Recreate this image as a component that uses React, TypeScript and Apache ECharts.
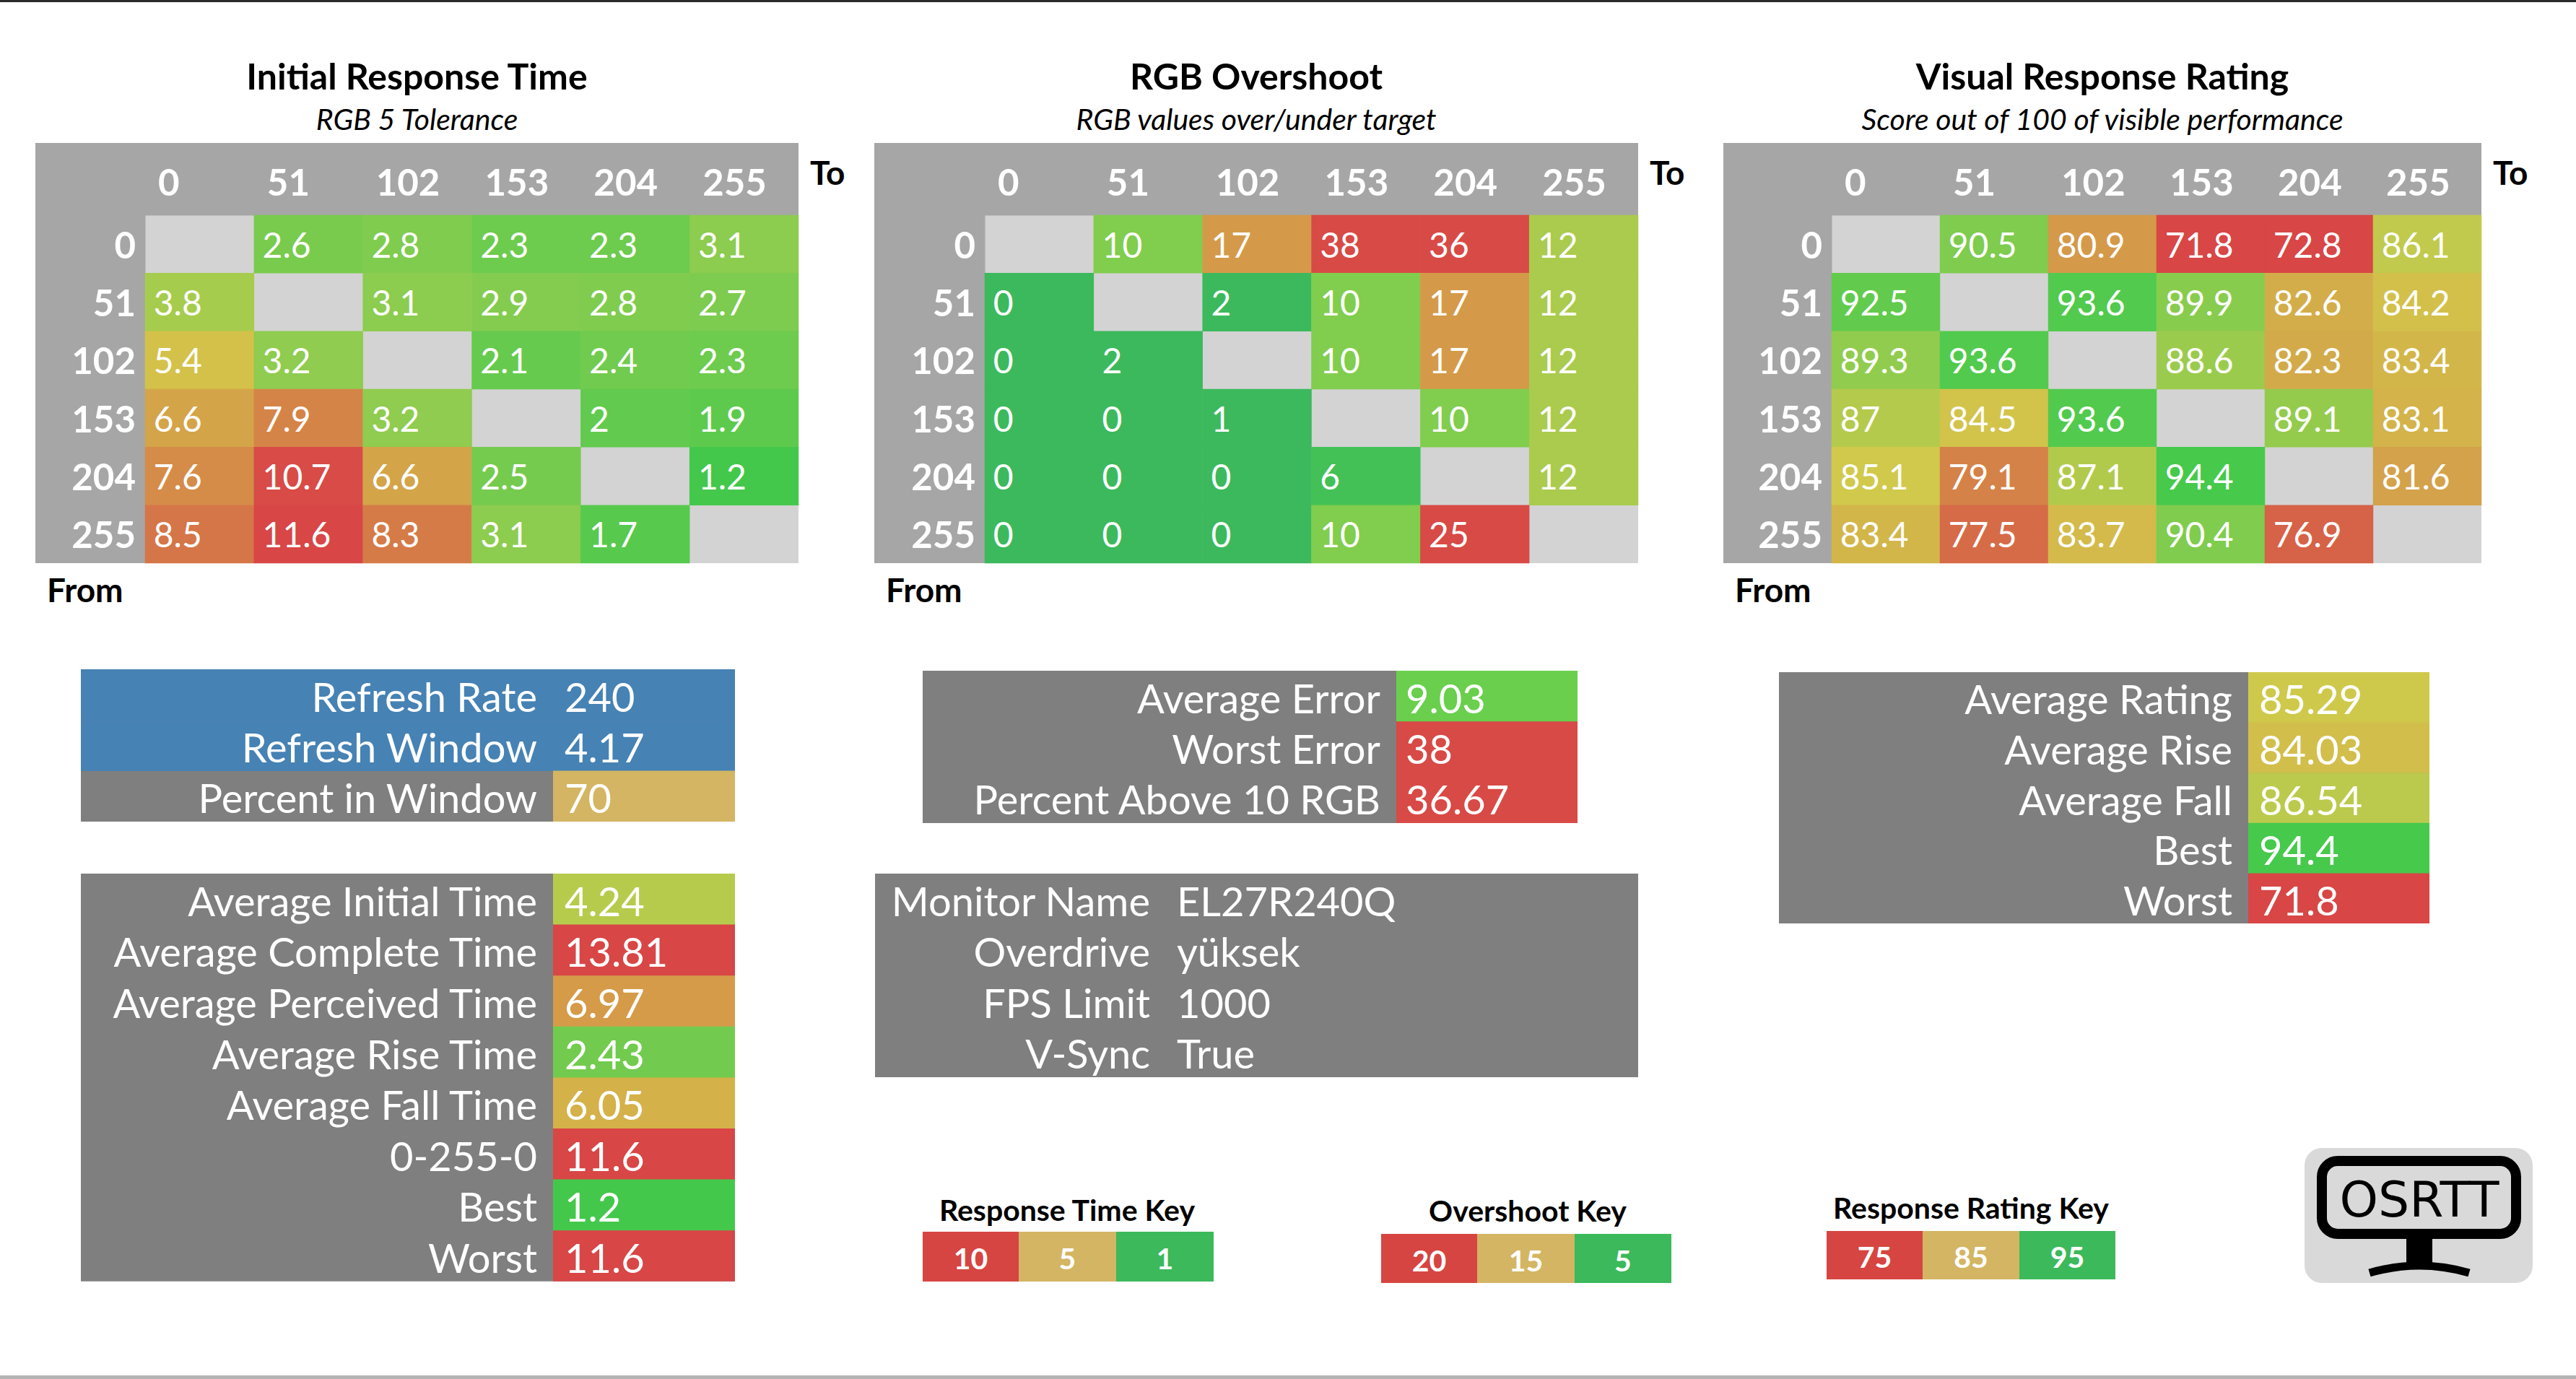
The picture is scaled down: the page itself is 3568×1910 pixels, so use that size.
import React, { useEffect, useRef } from "react";
import * as echarts from "echarts";

// ---------- data ----------
const levels = ["0", "51", "102", "153", "204", "255"];

const initialResponse: (number | null)[][] = [
  [null, 2.6, 2.8, 2.3, 2.3, 3.1],
  [3.8, null, 3.1, 2.9, 2.8, 2.7],
  [5.4, 3.2, null, 2.1, 2.4, 2.3],
  [6.6, 7.9, 3.2, null, 2, 1.9],
  [7.6, 10.7, 6.6, 2.5, null, 1.2],
  [8.5, 11.6, 8.3, 3.1, 1.7, null],
];

const overshoot: (number | null)[][] = [
  [null, 10, 17, 38, 36, 12],
  [0, null, 2, 10, 17, 12],
  [0, 2, null, 10, 17, 12],
  [0, 0, 1, null, 10, 12],
  [0, 0, 0, 6, null, 12],
  [0, 0, 0, 10, 25, null],
];

const rating: (number | null)[][] = [
  [null, 90.5, 80.9, 71.8, 72.8, 86.1],
  [92.5, null, 93.6, 89.9, 82.6, 84.2],
  [89.3, 93.6, null, 88.6, 82.3, 83.4],
  [87, 84.5, 93.6, null, 89.1, 83.1],
  [85.1, 79.1, 87.1, 94.4, null, 81.6],
  [83.4, 77.5, 83.7, 90.4, 76.9, null],
];

const refreshLabels = ["Refresh Rate", "Refresh Window", "Percent in Window"];
const refreshValues = ["240", "4.17", "70"];

const timeLabels = [
  "Average Initial Time",
  "Average Complete Time",
  "Average Perceived Time",
  "Average Rise Time",
  "Average Fall Time",
  "0-255-0",
  "Best",
  "Worst",
];
const timeValues = [4.24, 13.81, 6.97, 2.43, 6.05, 11.6, 1.2, 11.6];

const overshootLabels = ["Average Error", "Worst Error", "Percent Above 10 RGB"];
const overshootValues = [9.03, 38, 36.67];

const monitorLabels = ["Monitor Name", "Overdrive", "FPS Limit", "V-Sync"];
const monitorValues = ["EL27R240Q", "yüksek", "1000", "True"];

const ratingLabels = ["Average Rating", "Average Rise", "Average Fall", "Best", "Worst"];
const ratingValues = [85.29, 84.03, 86.54, 94.4, 71.8];

const responseKey = [10, 5, 1];
const overshootKey = [20, 15, 5];
const ratingKey = [75, 85, 95];

// ---------- styles ----------
const FONT = "Lato, 'Noto Sans', sans-serif";
const responseColors = ["#3cc84c", "#88cc4f", "#d2cb4a", "#d59a49", "#d56a47", "#d84646"];
const overshootColors = ["#3cb95c", "#50d04c", "#99cc4e", "#cdca4b", "#d49a49", "#d84a46"];
const ratingColors = ["#d84646", "#d48f49", "#d2c94b", "#86cc4e", "#3ec94c"];
const keyColors = ["#d64541", "#d4b563", "#3cb95a"];
const GRAY = "#7f7f7f";
const HEAD_GRAY = "#a6a6a6";
const DIAG = "#d3d3d3";
const BLUE = "#4682b4";
const TAN = "#d4b563";
const TABLE_FONT = 56;

function hex(c: string) {
  const n = parseInt(c.slice(1), 16);
  return [(n >> 16) & 255, (n >> 8) & 255, n & 255];
}
function colorAt(colors: string[], min: number, max: number, v: number) {
  let t = (v - min) / (max - min);
  t = Math.max(0, Math.min(1, t));
  const seg = t * (colors.length - 1);
  const i = Math.min(colors.length - 2, Math.floor(seg));
  const f = seg - i;
  const a = hex(colors[i]);
  const b = hex(colors[i + 1]);
  const m = a.map((x, k) => Math.round(x + (b[k] - x) * f));
  return `rgb(${m[0]},${m[1]},${m[2]})`;
}

const panels = [
  { title: "Initial Response Time", sub: "RGB 5 Tolerance", boxLeft: 49, gridLeft: 201, gridWidth: 905, matrix: initialResponse, min: 1, max: 11, colors: responseColors },
  { title: "RGB Overshoot", sub: "RGB values over/under target", boxLeft: 1211, gridLeft: 1364, gridWidth: 905, matrix: overshoot, min: 5, max: 20, colors: overshootColors },
  { title: "Visual Response Rating", sub: "Score out of 100 of visible performance", boxLeft: 2387, gridLeft: 2537, gridWidth: 900, matrix: rating, min: 75, max: 95, colors: ratingColors },
];
const BOX_TOP = 198;
const GRID_TOP = 298;
const GRID_H = 482;

function toCells(m: (number | null)[][]) {
  const out: number[][] = [];
  m.forEach((row, r) =>
    row.forEach((v, c) => {
      if (v !== null) out.push([c, r, v]);
    })
  );
  return out;
}

const txt = (text: string, x: number, y: number, size: number, o: any = {}) => ({
  type: "text",
  x,
  y,
  silent: true,
  style: {
    text,
    fill: o.fill ?? "#fff",
    fontSize: size,
    fontFamily: o.family ?? FONT,
    fontWeight: o.weight ?? "normal",
    fontStyle: o.italic ? "italic" : "normal",
    align: o.align ?? "left",
    verticalAlign: "middle",
  },
});
const rect = (x: number, y: number, w: number, h: number, fill: string, extra: any = {}) => ({
  type: "rect",
  silent: true,
  shape: { x, y, width: w, height: h, r: extra.r ?? 0 },
  style: { fill, stroke: extra.stroke, lineWidth: extra.lineWidth },
});

function table(o: {
  x: number; y: number; w: number; valueX: number | null; rowH: number;
  labels: string[]; values: string[]; labelRight: number; valueLeft: number;
  valueColors?: (string | null)[]; fullRow?: (string | null)[];
}) {
  const els: any[] = [];
  const n = o.labels.length;
  els.push(rect(o.x, o.y, o.w, o.rowH * n, GRAY));
  for (let i = 0; i < n; i++) {
    const y = o.y + i * o.rowH;
    const full = o.fullRow ? o.fullRow[i] : null;
    if (full) els.push(rect(o.x, y, o.w, o.rowH + (i < n - 1 ? 0.5 : 0), full));
    else if (o.valueX !== null && o.valueColors && o.valueColors[i])
      els.push(rect(o.valueX, y, o.x + o.w - o.valueX, o.rowH + (i < n - 1 ? 0.5 : 0), o.valueColors[i] as string));
  }
  for (let i = 0; i < n; i++) {
    const cy = o.y + i * o.rowH + o.rowH / 2 + 2;
    els.push(txt(o.labels[i], o.labelRight, cy, TABLE_FONT, { align: "right" }));
    els.push(txt(o.values[i], o.valueLeft, cy, TABLE_FONT));
  }
  return els;
}

function keyBlock(title: string, cx: number, ty: number, xs: number[], y0: number, y1: number, vals: number[]) {
  const els: any[] = [txt(title, cx, ty, 41, { fill: "#000", weight: "bold", align: "center" })];
  vals.forEach((v, i) => {
    els.push(rect(xs[i], y0, xs[i + 1] - xs[i] + (i < 2 ? 0.5 : 0), y1 - y0, keyColors[i]));
    els.push(txt(String(v), (xs[i] + xs[i + 1]) / 2, (y0 + y1) / 2 + 2, 41, { weight: "bold", align: "center" }));
  });
  return els;
}

function buildGraphic() {
  const els: any[] = [];
  els.push(rect(0, 0, 3568, 3, "#2a2a2a"));
  els.push(rect(0, 1905, 3568, 5, "#b4b4b4"));
  panels.forEach((p) => {
    const right = p.gridLeft + p.gridWidth;
    const cx = (p.boxLeft + right) / 2;
    els.push(rect(p.boxLeft, BOX_TOP, right - p.boxLeft, GRID_TOP - BOX_TOP + 0.5, HEAD_GRAY));
    els.push(rect(p.boxLeft, GRID_TOP, p.gridLeft - p.boxLeft + 0.5, GRID_H, HEAD_GRAY));
    els.push(txt(p.title, cx, 105, 50, { fill: "#000", weight: "bold", align: "center" }));
    els.push(txt(p.sub, cx, 164, 41, { fill: "#000", italic: true, align: "center" }));
    els.push(txt("To", right + 16, 238, 46, { fill: "#000", weight: "bold" }));
    els.push(txt("From", p.boxLeft + 16, 816, 46, { fill: "#000", weight: "bold" }));
  });

  els.push(
    ...table({
      x: 112, y: 927, w: 906, valueX: 766, rowH: 70.3,
      labels: refreshLabels, values: refreshValues, labelRight: 744, valueLeft: 782,
      fullRow: [BLUE, BLUE, null], valueColors: [null, null, TAN],
    })
  );
  els.push(
    ...table({
      x: 112, y: 1210, w: 906, valueX: 766, rowH: 70.6,
      labels: timeLabels, values: timeValues.map(String), labelRight: 744, valueLeft: 782,
      valueColors: timeValues.map((v) => colorAt(responseColors, 1, 11, v)),
    })
  );
  els.push(
    ...table({
      x: 1278, y: 929, w: 907, valueX: 1934, rowH: 70.3,
      labels: overshootLabels, values: overshootValues.map(String), labelRight: 1912, valueLeft: 1947,
      valueColors: overshootValues.map((v) => colorAt(overshootColors, 5, 20, v)),
    })
  );
  els.push(
    ...table({
      x: 1212, y: 1210, w: 1057, valueX: null, rowH: 70.5,
      labels: monitorLabels, values: monitorValues, labelRight: 1593, valueLeft: 1630,
    })
  );
  els.push(
    ...table({
      x: 2464, y: 931, w: 901, valueX: 3114, rowH: 69.6,
      labels: ratingLabels, values: ratingValues.map(String), labelRight: 3092, valueLeft: 3129,
      valueColors: ratingValues.map((v) => colorAt(ratingColors, 75, 95, v)),
    })
  );

  els.push(...keyBlock("Response Time Key", 1478, 1675, [1278, 1411, 1546, 1681], 1706, 1775, responseKey));
  els.push(...keyBlock("Overshoot Key", 2116, 1676, [1913, 2046, 2181, 2315], 1709, 1777, overshootKey));
  els.push(...keyBlock("Response Rating Key", 2730, 1672, [2530, 2663, 2797, 2930], 1705, 1772, ratingKey));

  // logo
  els.push(rect(3192, 1590, 316, 187, "#d9d9d9", { r: 24 }));
  els.push({
    type: "rect",
    silent: true,
    shape: { x: 3216, y: 1608, width: 269, height: 101, r: 22 },
    style: { fill: "none", stroke: "#000", lineWidth: 14 },
  });
  els.push(txt("OSRTT", 3351, 1661, 68, { fill: "#000", family: "'DejaVu Sans', sans-serif", align: "center" }));
  els.push(rect(3333, 1712, 36, 44, "#000"));
  els.push({
    type: "bezierCurve",
    silent: true,
    shape: { x1: 3282, y1: 1763, x2: 3420, y2: 1763, cpx1: 3351, cpy1: 1743 },
    style: { fill: "none", stroke: "#000", lineWidth: 11 },
  });
  return els;
}

export default function App() {
  const ref = useRef<HTMLDivElement>(null);
  useEffect(() => {
    if (!ref.current) return;
    const chart = echarts.init(ref.current, undefined, { renderer: "svg" });
    const option: any = {
      animation: false,
      backgroundColor: "#ffffff",
      grid: panels.map((p) => ({
        left: p.gridLeft,
        top: GRID_TOP,
        width: p.gridWidth,
        height: GRID_H,
        show: true,
        backgroundColor: DIAG,
        borderWidth: 0,
      })),
      xAxis: panels.map((p, i) => ({
        type: "category",
        gridIndex: i,
        data: levels,
        position: "top",
        axisLine: { show: false },
        axisTick: { show: false },
        splitLine: { show: false },
        axisLabel: {
          interval: 0,
          margin: 47,
          verticalAlign: "middle",
          formatter: (v: string) => `{h|${v}}`,
          rich: {
            h: {
              width: p.gridWidth / 6 - 18,
              padding: [0, 0, 0, 18],
              align: "left",
              color: "#fff",
              fontSize: 51,
              fontWeight: "bold",
              fontFamily: FONT,
            },
          },
        },
      })),
      yAxis: panels.map((p, i) => ({
        type: "category",
        gridIndex: i,
        data: levels,
        inverse: true,
        axisLine: { show: false },
        axisTick: { show: false },
        splitLine: { show: false },
        axisLabel: {
          interval: 0,
          margin: 13,
          color: "#fff",
          fontSize: 51,
          fontWeight: "bold",
          fontFamily: FONT,
        },
      })),
      visualMap: panels.map((p, i) => ({
        type: "continuous",
        show: false,
        seriesIndex: i,
        dimension: 2,
        min: p.min,
        max: p.max,
        inRange: { color: p.colors },
      })),
      series: panels.map((p, i) => ({
        type: "heatmap",
        xAxisIndex: i,
        yAxisIndex: i,
        data: toCells(p.matrix),
        itemStyle: { borderWidth: 0 },
        emphasis: { disabled: true },
        label: {
          show: true,
          position: "insideLeft",
          distance: 12,
          color: "#fff",
          fontSize: 48,
          fontFamily: FONT,
          formatter: (q: any) => String(q.value[2]),
        },
      })),
      graphic: { elements: buildGraphic() },
    };
    chart.setOption(option);
    return () => chart.dispose();
  }, []);
  return (
    <div
      ref={ref}
      style={{ position: "fixed", left: 0, top: 0, width: 3568, height: 1910, background: "#fff" }}
    />
  );
}
